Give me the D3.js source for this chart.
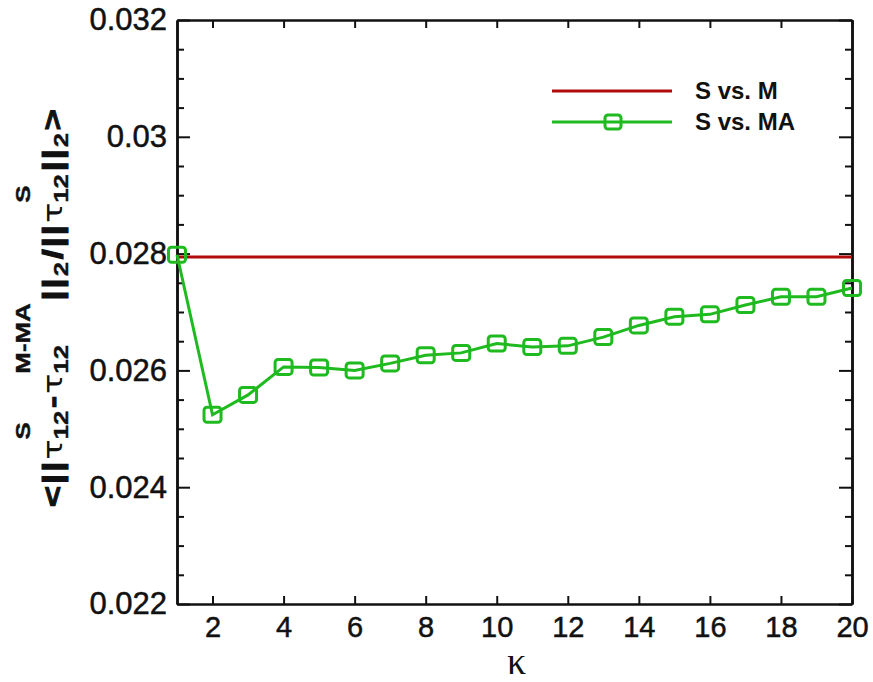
<!DOCTYPE html>
<html>
<head>
<meta charset="utf-8">
<script src="https://cdn.jsdelivr.net/npm/d3@7"></script>
<style>
  body { margin: 0; background: #fff; }
  svg { display: block; }
</style>
</head>
<body>
<div id="chart"></div>
<script>
// data
const kappa = [1, 2, 3, 4, 5, 6, 7, 8, 9, 10, 11, 12, 13, 14, 15, 16, 17, 18, 19, 20];
const sVsM = [0.02794, 0.02794, 0.02794, 0.02794, 0.02794, 0.02794, 0.02794, 0.02794, 0.02794, 0.02794,
  0.02794, 0.02794, 0.02794, 0.02794, 0.02794, 0.02794, 0.02794, 0.02794, 0.02794, 0.02794];
const sVsMA = [0.02798, 0.02524, 0.02558, 0.02606, 0.02605, 0.02600, 0.02612, 0.02626, 0.02630, 0.02646,
  0.02640, 0.02642, 0.02657, 0.02677, 0.02692, 0.02696, 0.02712, 0.02726, 0.02726, 0.02741];
const seriesNames = ["S vs. M", "S vs. MA"];
const xTicks = [2, 4, 6, 8, 10, 12, 14, 16, 18, 20];
const yTicks = [0.022, 0.024, 0.026, 0.028, 0.03, 0.032];
const yTickLabels = ["0.022", "0.024", "0.026", "0.028", "0.03", "0.032"];
const yMinor = [0.0225, 0.023, 0.0235, 0.0245, 0.025, 0.0255, 0.0265, 0.027, 0.0275,
  0.0285, 0.029, 0.0295, 0.0305, 0.031, 0.0315];

// sizing
const width = 873, height = 682;
const plot = { left: 177, right: 852, top: 20, bottom: 604 };
const red = "#b00a0a", green = "#1fba1f";

const svg = d3.select("#chart")
  .append("svg")
  .attr("width", width)
  .attr("height", height);

const x = d3.scaleLinear().domain([1, 20]).range([plot.left, plot.right]);
const y = d3.scaleLinear().domain([0.022, 0.032]).range([plot.bottom, plot.top]);

// axes, ticks point inward
function styleAxis(g) {
  g.select(".domain").attr("stroke", "#111").attr("stroke-width", 2.5);
  g.selectAll(".tick line").attr("stroke", "#111").attr("stroke-width", 2);
  g.selectAll(".tick text")
    .attr("fill", "#111")
    .attr("stroke", "#111")
    .attr("stroke-width", 0.5)
    .attr("font-family", "Liberation Sans, Arial, sans-serif");
}

svg.append("g")
  .attr("transform", `translate(${plot.left},0)`)
  .call(d3.axisLeft(y).tickValues(yMinor).tickSizeInner(-7).tickSizeOuter(0).tickFormat(""))
  .call(styleAxis);
svg.append("g")
  .attr("transform", `translate(${plot.right},0)`)
  .call(d3.axisRight(y).tickValues(yMinor).tickSizeInner(-7).tickSizeOuter(0).tickFormat(""))
  .call(styleAxis);

svg.append("g")
  .attr("transform", `translate(${plot.left},0)`)
  .call(d3.axisLeft(y).tickValues(yTicks).tickSizeInner(-13).tickSizeOuter(0).tickPadding(10)
    .tickFormat((d, i) => yTickLabels[i]))
  .call(styleAxis)
  .call(g => g.selectAll(".tick text").attr("font-size", 31));
svg.append("g")
  .attr("transform", `translate(${plot.right},0)`)
  .call(d3.axisRight(y).tickValues(yTicks).tickSizeInner(-13).tickSizeOuter(0).tickFormat(""))
  .call(styleAxis);

svg.append("g")
  .attr("transform", `translate(0,${plot.bottom})`)
  .call(d3.axisBottom(x).tickValues(xTicks).tickSizeInner(-8).tickSizeOuter(0).tickPadding(12))
  .call(styleAxis)
  .call(g => g.selectAll(".tick text").attr("font-size", 29).attr("dy", "0.71em"));
svg.append("g")
  .attr("transform", `translate(0,${plot.top})`)
  .call(d3.axisTop(x).tickValues(xTicks).tickSizeInner(-8).tickSizeOuter(0).tickFormat(""))
  .call(styleAxis);

// x title
svg.append("text")
  .attr("x", (plot.left + plot.right) / 2 + 2)
  .attr("y", 674)
  .attr("text-anchor", "middle")
  .attr("font-family", "Liberation Serif, Times New Roman, serif")
  .attr("font-size", 38)
  .attr("fill", "#111")
  .text("κ");

// y title, built piece by piece (stacked sub/superscripts)
const title = svg.append("g");
const main = { size: 28, weight: "bold", family: "Liberation Sans, Arial, sans-serif", stroke: 1 };
const greek = { size: 26, weight: "normal", family: "DejaVu Sans, sans-serif", stroke: 0 };
const small = { size: 20, weight: "bold", family: "Liberation Sans, Arial, sans-serif", stroke: 0.4 };
const pieces = [
  ["<||", main],
  ["τ", greek], [["12", "S"]],
  [" - ", main],
  ["τ", greek], [["12", "M-MA"]],
  ["||", main], [["2", null]],
  [" / ", main],
  ["||", main],
  ["τ", greek], [["12", "S"]],
  ["||", main], [["2", null]],
  [">", main]
];
let cursor = 0;
function addText(str, st, dy, spacing) {
  const t = title.append("text")
    .attr("x", cursor)
    .attr("y", dy)
    .attr("font-size", st.size)
    .attr("font-weight", st.weight)
    .attr("font-family", st.family)
    .attr("letter-spacing", spacing)
    .attr("fill", "#111")
    .attr("stroke", "#111")
    .attr("stroke-width", st.stroke)
    .text(str);
  return t.node().getComputedTextLength();
}
pieces.forEach(p => {
  if (Array.isArray(p[0])) {
    const [sub, sup] = p[0];
    const w1 = addText(sub, small, 6, 0);
    const w2 = sup ? addText(sup, small, -32, 0) : 0;
    cursor += Math.max(w1, w2) + 2;
  } else {
    cursor += addText(p[0], p[1], 0, p[1] === main ? 1.5 : 0);
  }
});
const total = cursor;
const sx = 400 / total;
title.attr("transform", `translate(62,307) rotate(-90) scale(${sx},1) translate(${-total / 2},0)`);

// series lines
const line = d3.line()
  .x((d, i) => x(kappa[i]))
  .y(d => y(d));

svg.append("path")
  .datum(sVsM)
  .attr("d", line)
  .attr("fill", "none")
  .attr("stroke", red)
  .attr("stroke-width", 3);

svg.append("path")
  .datum(sVsMA)
  .attr("d", line)
  .attr("fill", "none")
  .attr("stroke", green)
  .attr("stroke-width", 3);

const ms = 17;
svg.append("g")
  .selectAll("rect")
  .data(sVsMA)
  .join("rect")
  .attr("x", (d, i) => x(kappa[i]) - ms / 2)
  .attr("y", d => y(d) - (ms - 2) / 2)
  .attr("width", ms)
  .attr("height", ms - 2)
  .attr("rx", 3)
  .attr("fill", "none")
  .attr("stroke", green)
  .attr("stroke-width", 3);

// legend
const legend = svg.append("g").attr("transform", "translate(552,91)");
const legendRows = [
  { name: seriesNames[0], color: red, marker: false },
  { name: seriesNames[1], color: green, marker: true }
];
legendRows.forEach((r, i) => {
  const gy = i * 31;
  legend.append("line")
    .attr("x1", 0).attr("x2", 120)
    .attr("y1", gy).attr("y2", gy)
    .attr("stroke", r.color)
    .attr("stroke-width", 3);
  if (r.marker) {
    legend.append("rect")
      .attr("x", 61 - 8).attr("y", gy - 7)
      .attr("width", 16).attr("height", 14)
      .attr("rx", 3)
      .attr("fill", "none")
      .attr("stroke", r.color)
      .attr("stroke-width", 3);
  }
  legend.append("text")
    .attr("x", 143)
    .attr("y", gy + 8)
    .attr("font-family", "Liberation Sans, Arial, sans-serif")
    .attr("font-weight", "bold")
    .attr("font-size", 24)
    .attr("fill", "#111")
    .text(r.name);
});
</script>
</body>
</html>
